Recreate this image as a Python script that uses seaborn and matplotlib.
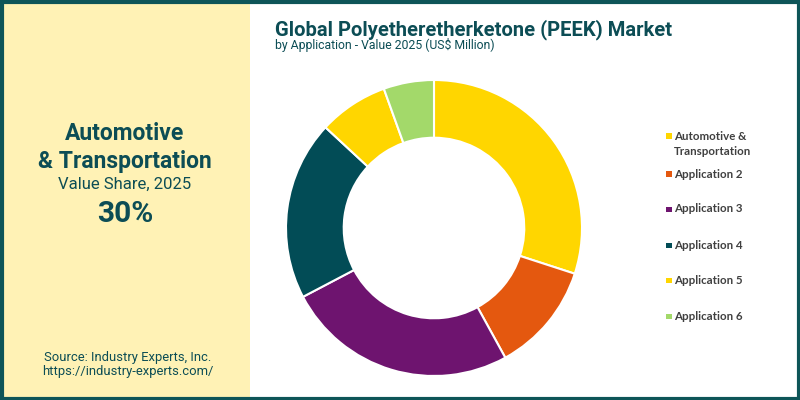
import matplotlib
matplotlib.use("Agg")
import matplotlib.pyplot as plt
import seaborn as sns
from matplotlib.patches import Rectangle

# ---- data ----
categories = ["Automotive &\nTransportation", "Application 2", "Application 3",
              "Application 4", "Application 5", "Application 6"]
shares = [30.0, 12.0, 25.3, 19.6, 7.6, 5.5]
colors = ["#FFD600", "#E4580F", "#6E146F", "#024C56", "#FFD600", "#A3D96A"]
highlight_name = ["Automotive", "& Transportation"]
highlight_value = "30%"
title = "Global Polyetheretherketone (PEEK) Market"
subtitle = "by Application - Value 2025 (US$ Million)"
source = ["Source: Industry Experts, Inc.", "https://industry-experts.com/"]

sns.set_theme(style="white")
plt.rcParams["font.family"] = ["Roboto", "DejaVu Sans"]

W, H = 800, 400
fig = plt.figure(figsize=(8, 4), dpi=100)
fig.patch.set_facecolor("white")

def fx(x):
    return x / W

def fy(y):
    return 1 - y / H

dark = "#0C4D55"
# left panel
fig.add_artist(Rectangle((0, 0), fx(250), 1, transform=fig.transFigure,
                         facecolor="#FFF2B5", edgecolor="none", zorder=0))
# border
fig.add_artist(Rectangle((fx(1.5), fy(398.5)), fx(797), 1 - 3 / H, transform=fig.transFigure,
                         facecolor="none", edgecolor="#0E5558", linewidth=3, zorder=10))

# left texts
fig.text(fx(125), fy(133), highlight_name[0], ha="center", va="center",
         fontsize=16.5, fontweight="bold", color=dark)
fig.text(fx(125), fy(161), highlight_name[1], ha="center", va="center",
         fontsize=16.5, fontweight="bold", color=dark)
fig.text(fx(125), fy(184), "Value Share, 2025", ha="center", va="center",
         fontsize=12, color=dark)
fig.text(fx(125), fy(214), highlight_value, ha="center", va="center",
         fontsize=21.5, fontweight="bold", color=dark)
fig.text(fx(128), fy(357), source[0], ha="center", va="center",
         fontsize=9.4, color=dark)
fig.text(fx(128), fy(371.5), source[1], ha="center", va="center",
         fontsize=9.4, color=dark)

# titles
fig.text(fx(275), fy(35), title, ha="left", va="baseline",
         fontsize=14.5, fontweight="bold", color=dark)
fig.text(fx(275), fy(49), subtitle, ha="left", va="baseline",
         fontsize=8.8, color=dark)

# donut
cx, cy, r = 434, 228, 148
ax = fig.add_axes([fx(cx - r), fy(cy + r), 2 * r / W, 2 * r / H])
wedges, _ = ax.pie(shares, colors=colors, startangle=90, counterclock=False,
                   radius=1.0, wedgeprops=dict(width=0.39, edgecolor="white", linewidth=1.5))
ax.set_xlim(-1, 1)
ax.set_ylim(-1, 1)
ax.set_aspect("equal")
ax.axis("off")

# legend
legend_y = [136, 174, 209, 245, 280, 316]
for lab, col, ly in zip(categories, colors, legend_y):
    fig.add_artist(Rectangle((fx(666), fy(ly + 3)), fx(5.5), 5.5 / H, transform=fig.transFigure,
                             facecolor=col, edgecolor="none"))
    fig.text(fx(674), fy(ly - 5.5) if "\n" in lab else fy(ly), lab, ha="left",
             va="top" if "\n" in lab else "center",
             fontsize=8.3, fontweight="bold", color="#404040", family=["Lato", "DejaVu Sans"],
             linespacing=1.5)

fig.savefig("out.png", dpi=100, facecolor="white")
